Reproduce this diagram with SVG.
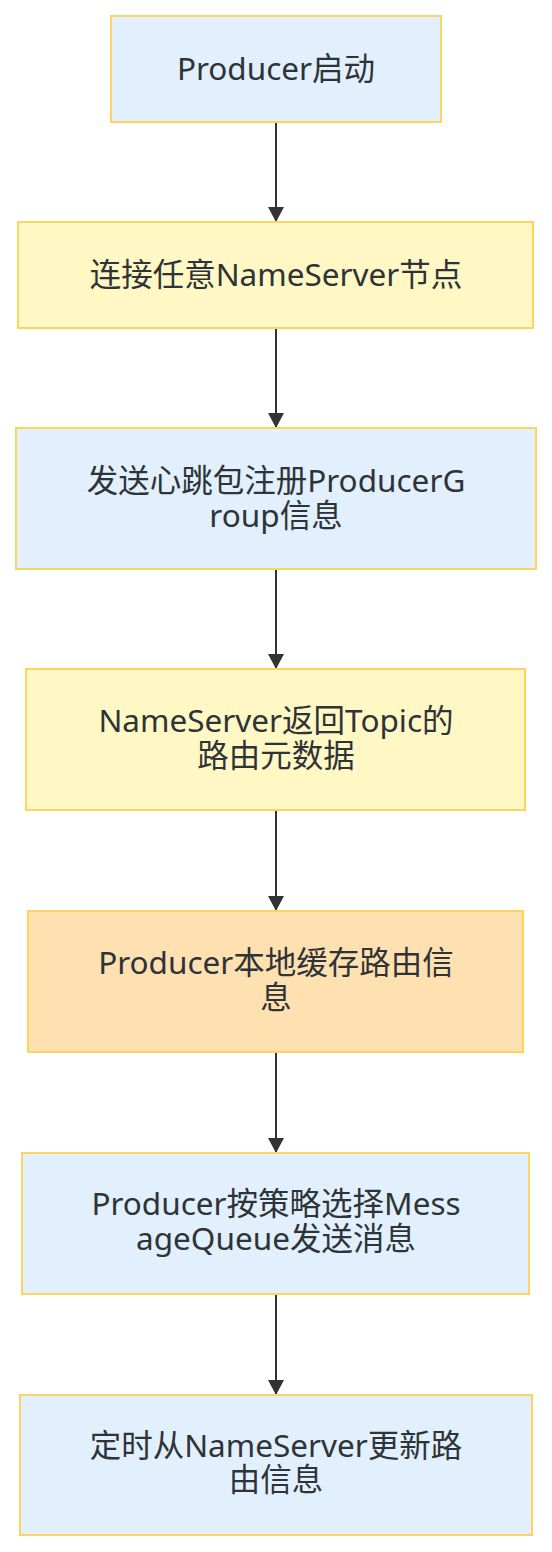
<svg xmlns="http://www.w3.org/2000/svg" width="552" height="1552" viewBox="0 0 552 1552">
<style>
.n{stroke:#FFD45E;stroke-width:2}
.blue{fill:#E1F0FC}
.yel{fill:#FFF8C4}
.org{fill:#FFE0B0}
.t{font-family:"Noto Sans","Noto Sans CJK SC",sans-serif;font-size:31.5px;fill:#2E3338;text-anchor:middle}
.e{stroke:#333;stroke-width:2;fill:none;marker-end:url(#arr)}
</style>
<defs>
<marker id="arr" viewBox="0 0 15 16" refX="15" refY="8" markerWidth="15" markerHeight="16" markerUnits="userSpaceOnUse" orient="auto">
<path d="M0,0 L15,8 L0,16 z" fill="#333"/>
</marker>
</defs>
<rect width="552" height="1552" fill="#fff"/>
<g id="edges">
<line class="e" x1="276" y1="122" x2="276" y2="222"/>
<line class="e" x1="276" y1="328" x2="276" y2="428"/>
<line class="e" x1="276" y1="569" x2="276" y2="669"/>
<line class="e" x1="276" y1="810" x2="276" y2="911"/>
<line class="e" x1="276" y1="1052" x2="276" y2="1153"/>
<line class="e" x1="276" y1="1294" x2="276" y2="1395"/>
</g>
<g id="n1"><rect class="n blue" x="111" y="16" width="330" height="106"/><text class="t" x="276" y="80">Producer启动</text></g>
<g id="n2"><rect class="n yel" x="18" y="222" width="515" height="106"/><text class="t" x="276" y="286">连接任意NameServer节点</text></g>
<g id="n3"><rect class="n blue" x="16" y="428" width="520" height="141"/><text class="t" x="276" y="492">发送心跳包注册ProducerG</text><text class="t" x="276" y="527">roup信息</text></g>
<g id="n4"><rect class="n yel" x="26" y="669" width="499" height="141"/><text class="t" x="276" y="732">NameServer返回Topic的</text><text class="t" x="276" y="767">路由元数据</text></g>
<g id="n5"><rect class="n org" x="28" y="911" width="495" height="141"/><text class="t" x="276" y="974">Producer本地缓存路由信</text><text class="t" x="276" y="1009">息</text></g>
<g id="n6"><rect class="n blue" x="22" y="1153" width="507" height="141"/><text class="t" x="276" y="1215">Producer按策略选择Mess</text><text class="t" x="276" y="1250">ageQueue发送消息</text></g>
<g id="n7"><rect class="n blue" x="20" y="1395" width="512" height="140"/><text class="t" x="276" y="1457">定时从NameServer更新路</text><text class="t" x="276" y="1491">由信息</text></g>
</svg>
